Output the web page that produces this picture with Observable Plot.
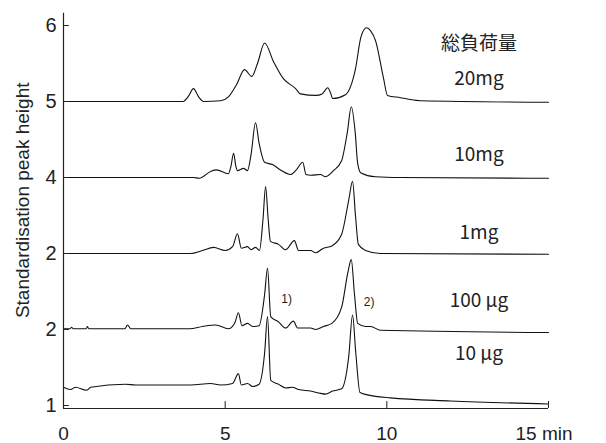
<!DOCTYPE html>
<html><head><meta charset="utf-8">
<script src="https://cdn.jsdelivr.net/npm/d3@7"></script>
<script src="https://cdn.jsdelivr.net/npm/@observablehq/plot@0.6"></script>
<style>body{margin:0;background:#fff}</style>
</head><body><div id="chart"></div>
<script>
const traceNames = ["20mg","10mg","1mg","100µg","10µg"];
const baselines = [5, 4, 3, 2.01, 1.24];
const t20 = [0,3.7,3.85,4.02,4.18,4.33,4.86,5.1,5.35,5.6,5.82,6.0,6.22,6.5,6.8,7.18,7.33,7.8,8.0,8.17,8.27,8.32,8.72,9.03,9.2,9.37,9.5,9.65,9.9,10.02,10.42,10.67,11.04,15];
const h20 = [0,0,0.06,0.17,0.06,0,0.01,0.06,0.22,0.42,0.33,0.5,0.77,0.52,0.3,0.17,0.1,0.08,0.1,0.18,0.1,0.04,0.09,0.43,0.85,0.97,0.93,0.8,0.3,0.08,0.05,0.03,0.01,-0.01];
const t10m = [0,4.02,4.2,4.55,4.73,5.1,5.18,5.26,5.33,5.38,5.57,5.69,5.8,5.94,6.05,6.22,6.46,6.71,7.02,7.2,7.4,7.5,7.64,7.95,8.1,8.35,8.6,8.78,8.9,9.02,9.1,9.2,9.65,10.4,15];
const h10m = [0,0,-0.01,0.08,0.1,0.05,0.15,0.32,0.15,0.09,0.12,0.09,0.3,0.72,0.45,0.2,0.17,0.1,0.04,0.1,0.2,0.04,0.03,0.04,0.01,0.09,0.22,0.6,0.93,0.6,0.18,0.06,0.01,0,-0.01];
const t1m = [0,3.93,4.3,4.64,5.0,5.23,5.38,5.5,5.69,5.8,5.94,6.06,6.17,6.25,6.33,6.4,6.65,6.87,7.14,7.27,7.64,7.8,8.04,8.3,8.6,8.82,8.94,9.03,9.12,9.34,9.8,15];
const h1m = [0,0,0.04,0.08,0.04,0.09,0.26,0.07,0.09,0.05,0.08,0.04,0.45,0.88,0.45,0.16,0.12,0.05,0.17,0.04,0.04,0.01,0.07,0.1,0.25,0.7,0.95,0.5,0.12,0.04,0,-0.01];
const t100u = [0,0.2,0.25,0.3,0.7,0.74,0.78,1.9,1.98,2.08,3.9,4.3,4.7,5.1,5.3,5.41,5.52,5.69,5.85,6.05,6.22,6.31,6.41,6.65,6.87,7.11,7.24,7.64,7.8,8.04,8.3,8.6,8.8,8.9,9.0,9.1,9.34,9.5,9.8,15];
const h100u = [0,0,0.02,0,0,0.03,0,0,0.05,0,0,0.03,0.05,0,0.08,0.21,0.04,0.07,0.03,0.04,0.45,0.8,0.16,0.09,0.01,0.1,0.01,0.01,-0.01,0.03,0.07,0.28,0.75,0.91,0.45,0.07,0.03,0.03,-0.02,-0.05];
const t10u = [0,0.22,0.37,0.71,0.84,1.92,2.23,3.93,4.55,4.86,5.23,5.41,5.5,5.69,5.85,6.05,6.22,6.31,6.41,6.65,6.87,7.08,7.27,7.64,7.95,8.1,8.32,8.6,8.82,8.94,9.04,9.17,9.65,10.11,11.97,15];
const h10u = [0,-0.03,0,-0.04,0,0.04,0.03,0.03,0.05,0.03,0.05,0.18,0.03,0.05,0.01,0.04,0.45,0.93,0.09,0.04,-0.01,0,-0.03,-0.05,-0.08,-0.09,-0.05,-0.02,0.4,0.95,0.45,-0.07,-0.12,-0.14,-0.18,-0.22];
const times = [t20,t10m,t1m,t100u,t10u];
const heights = [h20,h10m,h1m,h100u,h10u];

const labels = ["総負荷量","20mg","10mg","1mg","100 μg","10 μg"];
const labelX = [12.85,12.85,12.85,12.85,12.85,12.85];
const labelY = [5.76,5.3,4.3,3.27,2.38,1.68];
const peakNotes = ["1)","2)"];
const peakNoteX = [6.9,9.45];
const peakNoteY = [2.4,2.36];

const yTickPos = [1,2,3,4,5,6];
const yTickText = ["1","2","2","4","5","6"];
const xTickPos = [0,5,10];
const xTickText = ["0","5","10"];

const rows = [];
times.forEach((ts,i)=>ts.forEach((t,j)=>rows.push({trace:traceNames[i],t,y:baselines[i]+heights[i][j]})));

const y0 = 1 - 3/76, y1 = 6 + 15/76;
const chart = Plot.plot({
  width:606, height:443,
  marginLeft:63, marginRight:58, marginTop:10, marginBottom:35,
  x:{domain:[0,15], axis:null},
  y:{domain:[y0,y1], axis:null},
  style:{fontFamily:"Liberation Sans, Arial, sans-serif", background:"#fff"},
  marks:[
    Plot.line(rows,{x:"t",y:"y",z:"trace",stroke:"#111",strokeWidth:1.1,curve:"monotone-x"}),
    Plot.ruleX([0],{y1:y0,y2:6.16,stroke:"#222",strokeWidth:1.2}),
    Plot.ruleY([y0],{x1:0,x2:15,stroke:"#222",strokeWidth:1.2}),
    Plot.ruleY(yTickPos,{x1:0,x2:0.18,stroke:"#222"}),
    Plot.ruleX([0,5,10,15],{y1:y0,y2:y0+7/76,stroke:"#222"}),
    Plot.text(yTickPos,{x:0,y:d=>d,text:(d,i)=>yTickText[i],dx:-7,textAnchor:"end",fontSize:20,fill:"#222"}),
    Plot.text(xTickPos,{x:d=>d,y:y0,text:(d,i)=>xTickText[i],dy:25,textAnchor:"middle",fontSize:19,fill:"#222"}),
    Plot.text(["15 min"],{x:15,y:y0,text:d=>d,dy:25,dx:-33,textAnchor:"start",fontSize:19,fill:"#222"}),
    Plot.text(labels,{x:(d,i)=>labelX[i],y:(d,i)=>labelY[i],text:d=>d,fontSize:19,fill:"#222",fontFamily:"Noto Sans CJK JP, Liberation Sans, sans-serif"}),
    Plot.text(peakNotes,{x:(d,i)=>peakNoteX[i],y:(d,i)=>peakNoteY[i],text:d=>d,fontSize:12,fill:"#222"}),
    Plot.text(["Standardisation peak height"],{x:0,y:3.7,dx:-41,rotate:-90,fontSize:19,fill:"#222"})
  ]
});
document.getElementById("chart").append(chart);
</script></body></html>
